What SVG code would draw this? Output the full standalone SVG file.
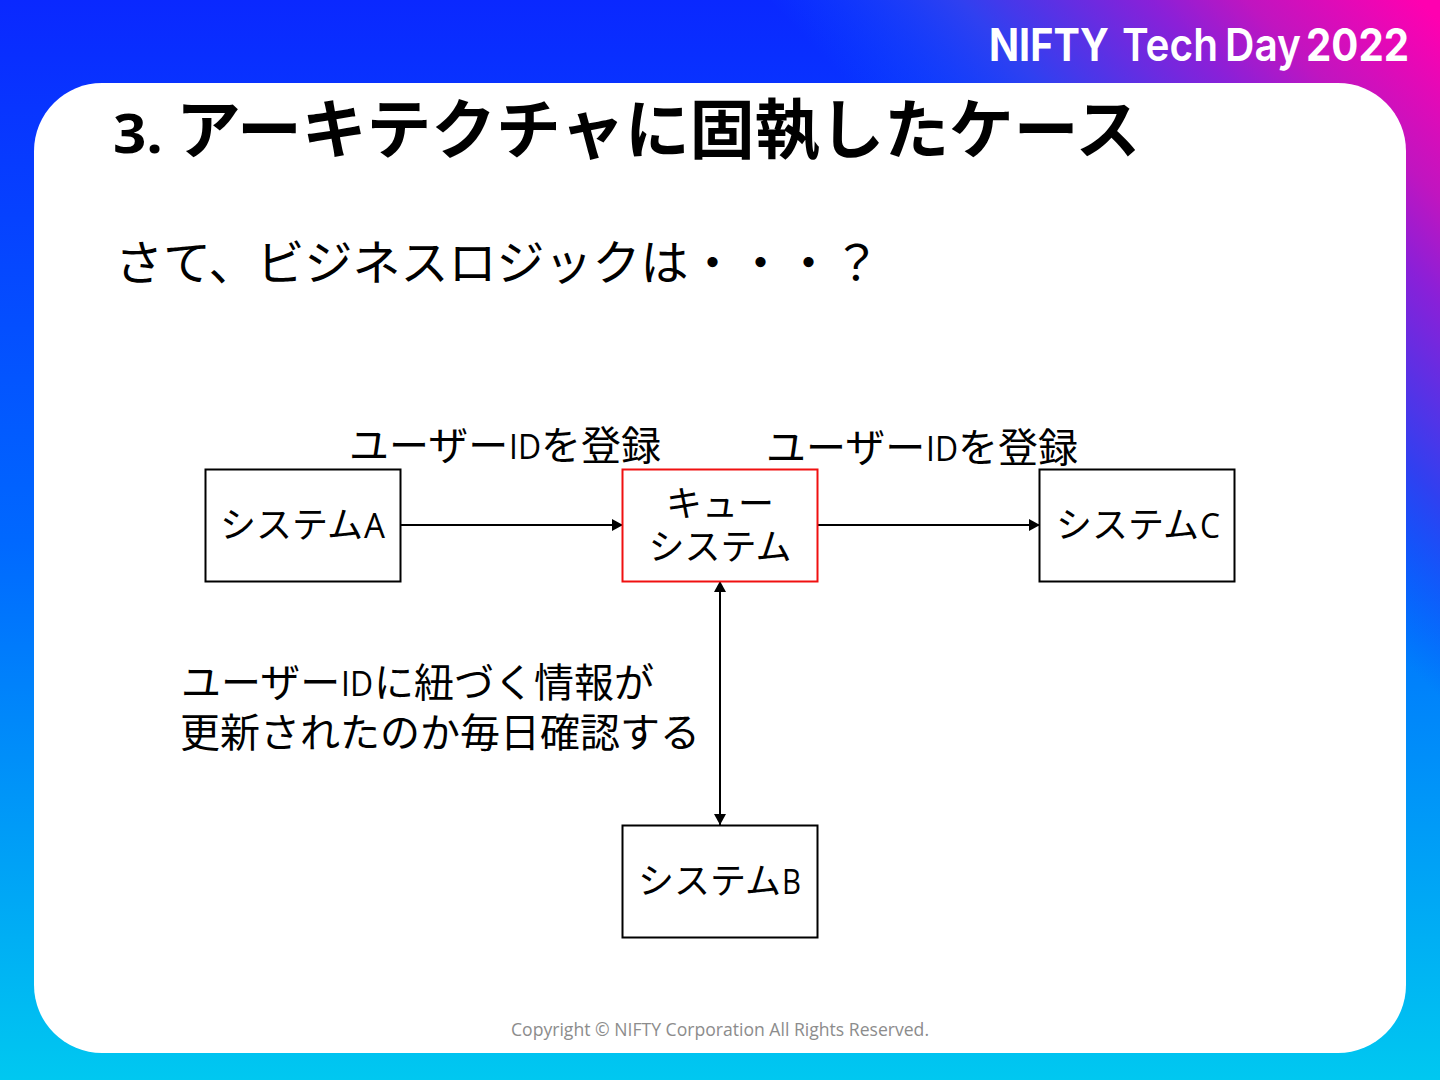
<svg xmlns="http://www.w3.org/2000/svg" width="1440" height="1080" viewBox="0 0 1440 1080">
<defs>
<linearGradient id="bg" gradientUnits="userSpaceOnUse" x1="0" y1="0" x2="0" y2="1080"><stop offset="0" stop-color="#0a28ff"/><stop offset="0.5" stop-color="#0068ff"/><stop offset="1" stop-color="#00c8f0"/></linearGradient>
<linearGradient id="pk" gradientUnits="userSpaceOnUse" x1="1440" y1="0" x2="1091" y2="336"><stop offset="0.03" stop-color="#ff00b0"/><stop offset="0.286" stop-color="#c015c0"/><stop offset="0.43" stop-color="#8a20d8"/><stop offset="0.714" stop-color="#3040f0"/><stop offset="1" stop-color="#0a50ff" stop-opacity="0"/></linearGradient>
<marker id="ah" markerWidth="12" markerHeight="12" refX="11" refY="6" orient="auto-start-reverse" markerUnits="userSpaceOnUse"><path d="M0 0L11 6L0 12Z" fill="#000"/></marker>
</defs>
<style>
text{font-family:"Noto Sans CJK JP","Liberation Sans",sans-serif;fill:#000}
.box{fill:#fff;stroke:#000;stroke-width:2}
.s{font-size:36px}
.l{font-size:40px}
.i{font-family:"Open Sans","Liberation Sans",sans-serif;font-size:35px}
.c{stroke:#000;stroke-width:2;fill:none}
.g{font-family:"Inter","Liberation Sans",sans-serif;font-size:45px;font-weight:700;fill:#fff}
</style>
<rect width="1440" height="1080" fill="url(#bg)"/>
<rect width="1440" height="1080" fill="url(#pk)"/>
<rect x="34" y="83" width="1372" height="970" rx="68" fill="#fff"/>
<g id="logo">
<text class="g" x="989" y="61" textLength="120" lengthAdjust="spacingAndGlyphs">NIFTY</text>
<text class="g" x="1122" y="61" style="font-weight:600" textLength="96" lengthAdjust="spacingAndGlyphs">Tech</text>
<text class="g" x="1225" y="61" style="font-weight:600" textLength="76" lengthAdjust="spacingAndGlyphs">Day</text>
<text class="g" x="1306" y="61" textLength="103" lengthAdjust="spacingAndGlyphs">2022</text>
</g>
<text x="113" y="153" font-size="54" font-weight="700" style="font-family:'Open Sans','Liberation Sans',sans-serif" textLength="50" lengthAdjust="spacingAndGlyphs">3.</text>
<text x="176" y="153" font-size="64.800" font-weight="700">アーキテクチャに固執したケース</text>
<text x="115" y="280" font-size="48">さて、ビジネスロジックは・・・？</text>
<g id="label1"><text class="l" x="349" y="460">ユーザー</text><text class="i" x="509" y="459" textLength="32" lengthAdjust="spacingAndGlyphs">ID</text><text class="l" x="541" y="460">を登録</text></g>
<g id="label2"><text class="l" x="766" y="462">ユーザー</text><text class="i" x="926" y="461" textLength="32" lengthAdjust="spacingAndGlyphs">ID</text><text class="l" x="958" y="462">を登録</text></g>
<g id="connectors">
<line class="c" x1="401" y1="525" x2="623" y2="525" marker-end="url(#ah)"/>
<line class="c" x1="818" y1="525" x2="1040" y2="525" marker-end="url(#ah)"/>
<line class="c" x1="720" y1="581" x2="720" y2="825" marker-start="url(#ah)" marker-end="url(#ah)"/>
</g>
<g id="systemA"><rect class="box" x="205.500" y="469.500" width="195" height="112"/><text class="s" x="220" y="538">システム</text><text class="i" x="364" y="538" textLength="21" lengthAdjust="spacingAndGlyphs">A</text></g>
<g id="queue"><rect class="box" style="stroke:#f01010" x="622.500" y="469.500" width="195" height="112"/><text class="s" x="720" y="517" text-anchor="middle">キュー</text><text class="s" x="720" y="560" text-anchor="middle">システム</text></g>
<g id="systemC"><rect class="box" x="1039.500" y="469.500" width="195" height="112"/><text class="s" x="1056" y="538">システム</text><text class="i" x="1200" y="538" textLength="20" lengthAdjust="spacingAndGlyphs">C</text></g>
<g id="systemB"><rect class="box" x="622.500" y="825.500" width="195" height="112"/><text class="s" x="638" y="894">システム</text><text class="i" x="782" y="894" textLength="19" lengthAdjust="spacingAndGlyphs">B</text></g>
<g id="note">
<text class="l" x="181" y="697">ユーザー</text><text class="i" x="341" y="696" textLength="32" lengthAdjust="spacingAndGlyphs">ID</text><text class="l" x="374" y="697">に紐づく情報が</text>
<text class="l" x="180" y="747">更新されたのか毎日確認する</text>
</g>
<text x="720" y="1036" font-size="18" text-anchor="middle" style="fill:#8c8c8c;font-family:'Open Sans','Liberation Sans',sans-serif" textLength="418" lengthAdjust="spacingAndGlyphs">Copyright © NIFTY Corporation All Rights Reserved.</text>
</svg>
